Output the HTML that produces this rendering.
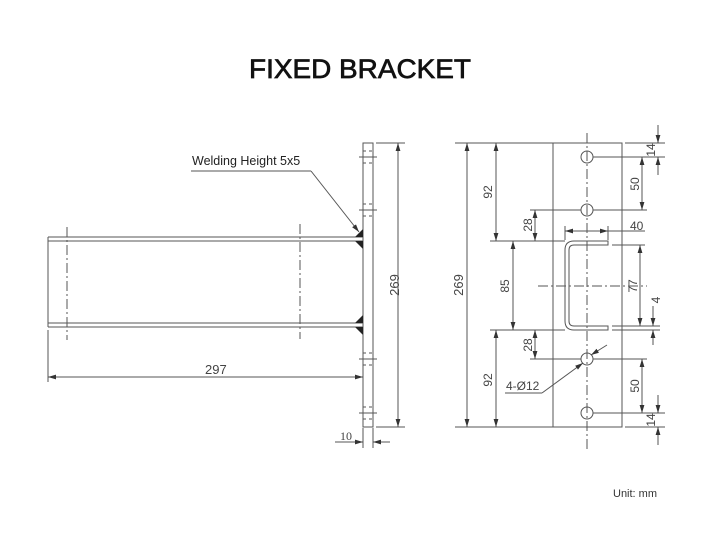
<!DOCTYPE html>
<html><head><meta charset="utf-8"><style>
html,body{margin:0;padding:0;background:#fff;}
svg{display:block;}
</style></head><body>
<svg width="720" height="554" viewBox="0 0 720 554" xmlns="http://www.w3.org/2000/svg">
<defs>
<marker id="a" viewBox="0 0 10 10" refX="10" refY="5" markerWidth="8" markerHeight="8" markerUnits="userSpaceOnUse" orient="auto-start-reverse">
<path d="M0,2 L10,5 L0,8 z" fill="#333"/></marker>
</defs>
<text x="360" y="78" text-anchor="middle" font-family="Liberation Sans, sans-serif" font-size="27" fill="#111" stroke="#111" stroke-width="0.7" textLength="222" lengthAdjust="spacingAndGlyphs">FIXED BRACKET</text>
<g stroke="#555" stroke-width="1" fill="none">
<rect x="363" y="143" width="10" height="284"/>
<line x1="48" y1="237" x2="363" y2="237"/><line x1="48" y1="241" x2="363" y2="241"/>
<line x1="48" y1="323" x2="363" y2="323"/><line x1="48" y1="327" x2="363" y2="327"/>
<line x1="48" y1="237" x2="48" y2="327"/>
<line x1="67" y1="227" x2="67" y2="340" stroke-dasharray="10,3,2,3"/>
<line x1="300" y1="224" x2="300" y2="339" stroke-dasharray="10,3,2,3"/>
<g>
<line x1="359" y1="157" x2="377" y2="157"/><line x1="363" y1="151" x2="373" y2="151" stroke-dasharray="3,3"/><line x1="363" y1="163" x2="373" y2="163" stroke-dasharray="3,3"/>
<line x1="359" y1="210" x2="377" y2="210"/><line x1="363" y1="204" x2="373" y2="204" stroke-dasharray="3,3"/><line x1="363" y1="216" x2="373" y2="216" stroke-dasharray="3,3"/>
<line x1="359" y1="359" x2="377" y2="359"/><line x1="363" y1="353" x2="373" y2="353" stroke-dasharray="3,3"/><line x1="363" y1="365" x2="373" y2="365" stroke-dasharray="3,3"/>
<line x1="359" y1="413" x2="377" y2="413"/><line x1="363" y1="407" x2="373" y2="407" stroke-dasharray="3,3"/><line x1="363" y1="419" x2="373" y2="419" stroke-dasharray="3,3"/>
</g>
<line x1="191" y1="171" x2="311" y2="171"/>
<line x1="311" y1="171" x2="359" y2="232" marker-end="url(#a)"/>
<line x1="48" y1="330" x2="48" y2="382"/>
<line x1="48" y1="377" x2="363" y2="377" marker-start="url(#a)" marker-end="url(#a)"/>
<line x1="376" y1="143" x2="405" y2="143"/><line x1="376" y1="427" x2="405" y2="427"/>
<line x1="398" y1="143" x2="398" y2="427" marker-start="url(#a)" marker-end="url(#a)"/>
<line x1="363" y1="428" x2="363" y2="448"/><line x1="373" y1="428" x2="373" y2="448"/>
<line x1="335" y1="442" x2="363" y2="442" marker-end="url(#a)"/>
<line x1="390" y1="442" x2="373" y2="442" marker-end="url(#a)"/>
<rect x="553" y="143" width="69" height="284"/>
<line x1="587" y1="133" x2="587" y2="450" stroke-dasharray="10,3,2,3"/>
<line x1="538" y1="286" x2="647" y2="286" stroke-dasharray="10,3,2,3"/>
<circle cx="587" cy="157" r="6"/><circle cx="587" cy="210" r="6"/><circle cx="587" cy="359" r="6"/><circle cx="587" cy="413" r="6"/>
<path d="M608,241 L574,241 Q565,241 565,250 L565,321 Q565,330 574,330 L608,330 L608,326 L574,326 Q569,326 569,321 L569,250 Q569,245 574,245 L608,245 Z"/>
<line x1="455" y1="143" x2="553" y2="143"/><line x1="455" y1="427" x2="553" y2="427"/>
<line x1="467" y1="143" x2="467" y2="427" marker-start="url(#a)" marker-end="url(#a)"/>
<line x1="490" y1="241" x2="565" y2="241"/><line x1="490" y1="330" x2="565" y2="330"/>
<line x1="496" y1="143" x2="496" y2="241" marker-start="url(#a)" marker-end="url(#a)"/>
<line x1="496" y1="330" x2="496" y2="427" marker-start="url(#a)" marker-end="url(#a)"/>
<line x1="513" y1="241" x2="513" y2="330" marker-start="url(#a)" marker-end="url(#a)"/>
<line x1="530" y1="210" x2="581" y2="210"/><line x1="530" y1="359" x2="581" y2="359"/>
<line x1="535" y1="210" x2="535" y2="241" marker-start="url(#a)" marker-end="url(#a)"/>
<line x1="535" y1="330" x2="535" y2="359" marker-start="url(#a)" marker-end="url(#a)"/>
<line x1="565" y1="226" x2="565" y2="240"/><line x1="608" y1="226" x2="608" y2="240"/>
<line x1="565" y1="231" x2="608" y2="231" marker-start="url(#a)" marker-end="url(#a)"/>
<line x1="608" y1="231" x2="645" y2="231"/>
<line x1="625" y1="143" x2="665" y2="143"/><line x1="593" y1="157" x2="665" y2="157"/>
<line x1="658" y1="125" x2="658" y2="143" marker-end="url(#a)"/>
<line x1="658" y1="175" x2="658" y2="157" marker-end="url(#a)"/>
<line x1="593" y1="210" x2="647" y2="210"/>
<line x1="642" y1="157" x2="642" y2="210" marker-start="url(#a)" marker-end="url(#a)"/>
<line x1="612" y1="245" x2="645" y2="245"/><line x1="612" y1="326" x2="660" y2="326"/><line x1="612" y1="330" x2="660" y2="330"/>
<line x1="640" y1="245" x2="640" y2="326" marker-start="url(#a)" marker-end="url(#a)"/>
<line x1="653" y1="306" x2="653" y2="326" marker-end="url(#a)"/>
<line x1="653" y1="345" x2="653" y2="330" marker-end="url(#a)"/>
<line x1="593" y1="359" x2="647" y2="359"/>
<line x1="642" y1="359" x2="642" y2="413" marker-start="url(#a)" marker-end="url(#a)"/>
<line x1="593" y1="413" x2="665" y2="413"/><line x1="625" y1="427" x2="665" y2="427"/>
<line x1="658" y1="395" x2="658" y2="413" marker-end="url(#a)"/>
<line x1="658" y1="445" x2="658" y2="427" marker-end="url(#a)"/>
<line x1="505" y1="393" x2="542" y2="393"/>
<line x1="542" y1="393" x2="583" y2="363" marker-end="url(#a)"/>
<line x1="607" y1="345" x2="591" y2="355" marker-end="url(#a)"/>
</g>
<g font-family="Liberation Sans, sans-serif" fill="#444" font-size="12">
<text x="192" y="165" fill="#222" font-size="12.5">Welding Height 5x5</text>
<text x="205" y="374" font-size="13">297</text>
<text x="340" y="440" font-family="Liberation Serif, serif" font-size="12">10</text>
<text transform="translate(399,285) rotate(-90)" text-anchor="middle" font-size="13">269</text>
<text transform="translate(463,285) rotate(-90)" text-anchor="middle" font-size="13">269</text>
<text transform="translate(492,192) rotate(-90)" text-anchor="middle">92</text>
<text transform="translate(492,380) rotate(-90)" text-anchor="middle">92</text>
<text transform="translate(509,286) rotate(-90)" text-anchor="middle">85</text>
<text transform="translate(532,225) rotate(-90)" text-anchor="middle">28</text>
<text transform="translate(532,345) rotate(-90)" text-anchor="middle">28</text>
<text x="630" y="230">40</text>
<text transform="translate(655,150) rotate(-90)" text-anchor="middle">14</text>
<text transform="translate(639,184) rotate(-90)" text-anchor="middle">50</text>
<text transform="translate(637,286) rotate(-90)" text-anchor="middle">77</text>
<text transform="translate(660,300) rotate(-90)" text-anchor="middle">4</text>
<text transform="translate(639,386) rotate(-90)" text-anchor="middle">50</text>
<text transform="translate(655,420) rotate(-90)" text-anchor="middle">14</text>
<text x="506" y="390">4-Ø12</text>
<text x="613" y="497" fill="#333" font-size="11">Unit: mm</text>
</g>
<g fill="#222">
<path d="M363,229 L363,237 L355,237 Z"/><path d="M363,241 L363,249 L355,241 Z"/>
<path d="M363,315 L363,323 L355,323 Z"/><path d="M363,327 L363,335 L355,327 Z"/>
</g>
</svg>
</body></html>
